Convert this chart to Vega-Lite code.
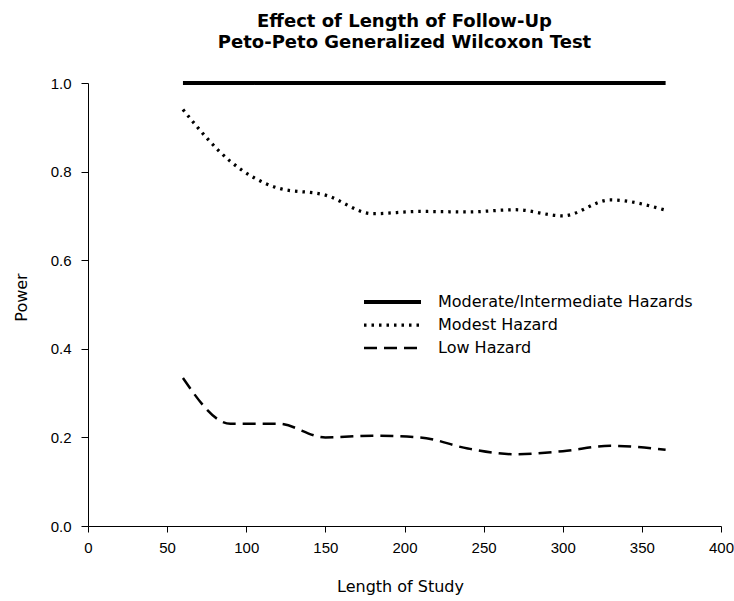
{
  "$schema": "https://vega.github.io/schema/vega-lite/v6.json",
  "autosize": "none",
  "padding": {"left": 88, "top": 83, "right": 13, "bottom": 75},
  "width": 633,
  "height": 443,
  "background": "white",
  "title": {
    "text": ["Effect of Length of Follow-Up", "Peto-Peto Generalized Wilcoxon Test"],
    "font": "DejaVu Sans",
    "fontSize": 18,
    "fontWeight": "bold",
    "color": "black",
    "anchor": "middle",
    "lineHeight": 21,
    "offset": 23
  },
  "config": {
    "view": {"stroke": null},
    "axis": {
      "grid": false,
      "domainColor": "black",
      "tickColor": "black",
      "labelColor": "black",
      "titleColor": "black",
      "labelFont": "Liberation Sans",
      "titleFont": "DejaVu Sans",
      "labelFontSize": 15,
      "titleFontSize": 16,
      "titleFontWeight": "normal"
    }
  },
  "data": {
    "values": [
      {"series": "Moderate/Intermediate Hazards", "day": 60, "power": 1.0},
      {"series": "Moderate/Intermediate Hazards", "day": 90, "power": 1.0},
      {"series": "Moderate/Intermediate Hazards", "day": 120, "power": 1.0},
      {"series": "Moderate/Intermediate Hazards", "day": 150, "power": 1.0},
      {"series": "Moderate/Intermediate Hazards", "day": 180, "power": 1.0},
      {"series": "Moderate/Intermediate Hazards", "day": 210, "power": 1.0},
      {"series": "Moderate/Intermediate Hazards", "day": 240, "power": 1.0},
      {"series": "Moderate/Intermediate Hazards", "day": 270, "power": 1.0},
      {"series": "Moderate/Intermediate Hazards", "day": 300, "power": 1.0},
      {"series": "Moderate/Intermediate Hazards", "day": 330, "power": 1.0},
      {"series": "Moderate/Intermediate Hazards", "day": 365, "power": 1.0},
      {"series": "Modest Hazard", "day": 60, "power": 0.94},
      {"series": "Modest Hazard", "day": 90, "power": 0.823},
      {"series": "Modest Hazard", "day": 120, "power": 0.763},
      {"series": "Modest Hazard", "day": 150, "power": 0.747},
      {"series": "Modest Hazard", "day": 180, "power": 0.705},
      {"series": "Modest Hazard", "day": 210, "power": 0.71},
      {"series": "Modest Hazard", "day": 240, "power": 0.709},
      {"series": "Modest Hazard", "day": 270, "power": 0.714},
      {"series": "Modest Hazard", "day": 300, "power": 0.7},
      {"series": "Modest Hazard", "day": 330, "power": 0.736},
      {"series": "Modest Hazard", "day": 365, "power": 0.713},
      {"series": "Low Hazard", "day": 60, "power": 0.334},
      {"series": "Low Hazard", "day": 90, "power": 0.231},
      {"series": "Low Hazard", "day": 120, "power": 0.231},
      {"series": "Low Hazard", "day": 150, "power": 0.2},
      {"series": "Low Hazard", "day": 180, "power": 0.204},
      {"series": "Low Hazard", "day": 210, "power": 0.2},
      {"series": "Low Hazard", "day": 240, "power": 0.175},
      {"series": "Low Hazard", "day": 270, "power": 0.162},
      {"series": "Low Hazard", "day": 300, "power": 0.169},
      {"series": "Low Hazard", "day": 330, "power": 0.181},
      {"series": "Low Hazard", "day": 365, "power": 0.172}
    ]
  },
  "mark": {"type": "line", "color": "black", "interpolate": "monotone", "strokeCap": "butt"},
  "encoding": {
    "x": {
      "field": "day",
      "type": "quantitative",
      "title": "Length of Study",
      "scale": {"domain": [0, 400], "nice": false, "zero": true},
      "axis": {"values": [0, 50, 100, 150, 200, 250, 300, 350, 400], "tickSize": 6, "labelPadding": 8, "titlePadding": 23, "titleX": 312, "labelFlush": false}
    },
    "y": {
      "field": "power",
      "type": "quantitative",
      "title": "Power",
      "scale": {"domain": [0, 1], "nice": false},
      "axis": {"values": [0, 0.2, 0.4, 0.6, 0.8, 1.0], "format": ".1f", "tickSize": 7, "labelPadding": 10, "titlePadding": 21, "titleY": 214, "labelFlush": false}
    },
    "strokeDash": {
      "field": "series",
      "type": "nominal",
      "title": null,
      "sort": ["Moderate/Intermediate Hazards", "Modest Hazard", "Low Hazard"],
      "scale": {
        "domain": ["Moderate/Intermediate Hazards", "Modest Hazard", "Low Hazard"],
        "range": [[1, 0], [2.5, 5], [13, 7]]
      },
      "legend": {
        "orient": "none",
        "legendX": 274,
        "legendY": 211,
        "symbolType": "stroke",
        "symbolSize": 3249,
        "symbolStrokeColor": "black",
        "clipHeight": 16,
        "labelFont": "DejaVu Sans",
        "labelFontSize": 16,
        "labelColor": "black",
        "labelLimit": 400,
        "labelOffset": 15,
        "rowPadding": 7
      }
    },
    "strokeWidth": {
      "field": "series",
      "type": "nominal",
      "title": null,
      "sort": ["Moderate/Intermediate Hazards", "Modest Hazard", "Low Hazard"],
      "scale": {
        "domain": ["Moderate/Intermediate Hazards", "Modest Hazard", "Low Hazard"],
        "range": [4, 2.5, 4]
      },
      "legend": {
        "orient": "none",
        "legendX": 274,
        "legendY": 211,
        "symbolType": "stroke",
        "symbolSize": 3249,
        "symbolStrokeColor": "black",
        "clipHeight": 16,
        "labelFont": "DejaVu Sans",
        "labelFontSize": 16,
        "labelColor": "black",
        "labelLimit": 400,
        "labelOffset": 15,
        "rowPadding": 7
      }
    }
  }
}
